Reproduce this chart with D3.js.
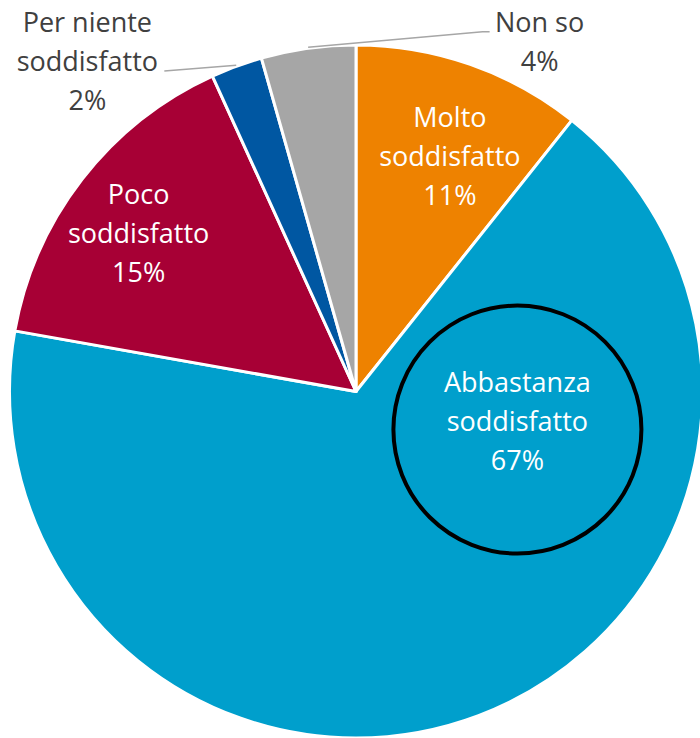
<!DOCTYPE html>
<html lang="it">
<head>
<meta charset="UTF-8"/>
<script src="https://cdn.jsdelivr.net/npm/d3@7"></script>
<style>
body { margin: 0; background: #fff; font-family: 'Open Sans', sans-serif; }
svg { display: block; }
text.inner { fill: #fff; font-size: 27px; }
text.outer { fill: #404040; font-size: 27px; }
.leader { fill: none; stroke: #a6a6a6; stroke-width: 1.5; }
</style>
</head>
<body>
<svg width="700" height="738"></svg>
<script>
  // data (percent, clockwise from 12 o'clock)
  const categories = ['Molto soddisfatto', 'Abbastanza soddisfatto', 'Poco soddisfatto', 'Per niente soddisfatto', 'Non so'];
  const values = [10.7, 67.1, 15.4, 2.4, 4.4];
  const colors = ['#ee8200', '#009fcc', '#a70035', '#0057a2', '#a6a6a6'];

  // label lines and where each label sits (polar: degrees from top, radius)
  const labelLines = [['Molto', 'soddisfatto'], ['Abbastanza', 'soddisfatto'], ['Poco', 'soddisfatto'], ['Per niente', 'soddisfatto'], ['Non so']];
  const labelPolar = [[21.7, 254], [100.2, 164], [306.1, 269], [320.9, 426], [27.7, 395]];
  const outside = [false, false, false, true, true];

  const svg = d3.select('svg');
  const cx = 356, cy = 391.5, R = 346.5;
  const lineH = 39;

  const g = svg.append('g').attr('transform', `translate(${cx},${cy})`);

  const pie = d3.pie().sort(null).value(d => d.v);
  const arc = d3.arc().innerRadius(0).outerRadius(R);

  const data = categories.map((c, i) => ({ name: c, v: values[i], i: i }));
  const arcs = pie(data);

  g.selectAll('path.slice')
    .data(arcs)
    .join('path')
    .attr('class', 'slice')
    .attr('d', arc)
    .attr('fill', d => colors[d.data.i])
    .attr('stroke', '#fff')
    .attr('stroke-width', 3)
    .attr('stroke-linejoin', 'round');

  // label anchor points
  const pos = arcs.map(d => d3.pointRadial(labelPolar[d.data.i][0] * Math.PI / 180, labelPolar[d.data.i][1]));

  // leader lines for the two small slices
  const leaderEnds = { 3: [[77, 10]], 4: [[-57, -10], [-50, -10]] };
  arcs.forEach((d, k) => {
    if (!outside[d.data.i]) return;
    const mid = (d.startAngle + d.endAngle) / 2;
    const p0 = d3.pointRadial(mid, R + 1);
    const pts = [p0].concat(leaderEnds[d.data.i].map(o => [pos[k][0] + o[0], pos[k][1] + o[1]]));
    g.append('path').attr('class', 'leader').attr('d', d3.line()(pts));
  });

  // highlight ring round the biggest slice's label
  g.append('circle')
    .attr('cx', pos[1][0])
    .attr('cy', pos[1][1] + 9)
    .attr('r', 124)
    .attr('fill', 'none')
    .attr('stroke', '#000')
    .attr('stroke-width', 4);

  arcs.forEach((d, k) => {
    const i = d.data.i;
    const lines = labelLines[i].concat([Math.round(values[i]) + '%']);
    const n = lines.length;
    const t = g.append('text')
      .attr('class', outside[i] ? 'outer' : 'inner')
      .attr('text-anchor', 'middle')
      .attr('x', pos[k][0])
      .attr('y', pos[k][1]);
    lines.forEach((s, j) => {
      t.append('tspan')
        .attr('x', pos[k][0])
        .attr('y', pos[k][1] + 10 + (j - (n - 1) / 2) * lineH)
        .text(s);
    });
  });
</script>
</body>
</html>
